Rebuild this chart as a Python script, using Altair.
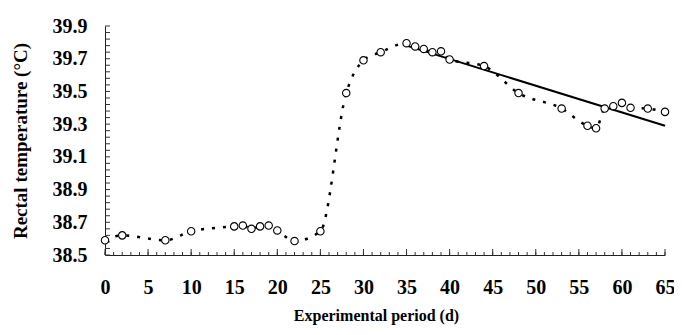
import altair as alt
import pandas as pd

# Observed rectal temperature (dotted curve with open circles)
day = [0, 2, 7, 10, 15, 16, 17, 18, 19, 20, 22, 25, 28, 30, 32, 35, 36, 37, 38, 39,
       40, 44, 48, 53, 56, 57, 58, 59, 60, 61, 63, 65]
temp = [38.59, 38.62, 38.59, 38.645, 38.675, 38.68, 38.66, 38.675, 38.68, 38.65,
        38.585, 38.645, 39.49, 39.69, 39.74, 39.795, 39.775, 39.76, 39.74, 39.745,
        39.695, 39.655, 39.49, 39.395, 39.29, 39.275, 39.395, 39.41, 39.43, 39.40,
        39.395, 39.375]

# Solid trend line
trend_day = [35, 65]
trend_temp = [39.78, 39.29]

# Axis tick / label values
x_labels = [0, 5, 10, 15, 20, 25, 30, 35, 40, 45, 50, 55, 60, 65]
x_minor = list(range(0, 66))
y_labels = [38.5, 38.7, 38.9, 39.1, 39.3, 39.5, 39.7, 39.9]
y_minor = [round(38.5 + 0.04 * k, 2) for k in range(36)]

df = pd.DataFrame({"day": day, "temp": temp})
tr = pd.DataFrame({"day": trend_day, "temp": trend_temp})

FONT = "Liberation Serif"
W, H = 560, 229
TICK = "#333333"

xscale = alt.Scale(domain=[0, 65], nice=False, zero=False)
yscale = alt.Scale(domain=[38.5, 39.9], nice=False, zero=False)

# Inward-pointing axis ticks
xminor_ticks = alt.Chart(pd.DataFrame({"t": x_minor})).mark_rule(
    color=TICK, strokeWidth=1
).encode(
    x=alt.X("t:Q", scale=xscale, axis=None),
    y=alt.value(H), y2=alt.value(H - 3),
)
xmajor_ticks = alt.Chart(pd.DataFrame({"t": x_labels})).mark_rule(
    color=TICK, strokeWidth=1
).encode(
    x=alt.X("t:Q", scale=xscale, axis=None),
    y=alt.value(H), y2=alt.value(H - 6),
)
y_ticks = alt.Chart(pd.DataFrame({"t": y_minor})).mark_rule(
    color=TICK, strokeWidth=1
).encode(
    y=alt.Y("t:Q", scale=yscale, axis=None),
    x=alt.value(0), x2=alt.value(5),
)

# Dotted curve
dotted = alt.Chart(df).mark_line(
    interpolate="monotone", color="black", strokeWidth=2.5, strokeDash=[3, 8]
).encode(
    x=alt.X("day:Q", scale=xscale, axis=None),
    y=alt.Y("temp:Q", scale=yscale, axis=None),
)

# Solid trend
trend = alt.Chart(tr).mark_line(color="black", strokeWidth=2).encode(
    x=alt.X("day:Q", scale=xscale, axis=None),
    y=alt.Y("temp:Q", scale=yscale, axis=None),
)

# Open circles, carrying the labelled axes
points = alt.Chart(df).mark_point(
    shape="circle", size=55, filled=True, fill="white", stroke="black",
    strokeWidth=1.1, opacity=1
).encode(
    x=alt.X("day:Q", scale=xscale, axis=alt.Axis(
        orient="bottom", values=x_labels, format="d", ticks=False, tickSize=0,
        labelPadding=32, labelBaseline="middle", labelFlush=False, labelOverlap=False,
        labelFont=FONT, labelFontSize=20, labelFontWeight="bold", labelColor="black",
        domainColor="#222222", domainWidth=1, grid=False,
        title="Experimental period (d)", titleFont=FONT, titleFontSize=16,
        titleFontWeight="bold", titleColor="black", titleX=271, titleY=60,
        titleAlign="center", titleBaseline="middle")),
    y=alt.Y("temp:Q", scale=yscale, axis=alt.Axis(
        orient="left", values=y_labels, format=".1f", ticks=False, tickSize=0,
        labelPadding=18, labelOverlap=False, labelFont=FONT, labelFontSize=20,
        labelFontWeight="bold", labelColor="black",
        domainColor="#222222", domainWidth=1, grid=False,
        title="Rectal temperature (°C)", titleFont=FONT, titleFontSize=19,
        titleFontWeight="bold", titleColor="black", titleX=-85, titleY=H / 2,
        titleAngle=270, titleAlign="center", titleBaseline="middle")),
)

chart = alt.layer(xminor_ticks, xmajor_ticks, y_ticks, dotted, trend, points).resolve_axis(
    x="independent", y="independent"
).properties(
    width=W, height=H,
    padding={"left": 97, "top": 18, "right": 9, "bottom": 72},
    autosize=alt.AutoSizeParams(type="none"),
    background="white",
).configure_view(stroke=None)

chart.save("out.html", embed_options={"renderer": "svg", "actions": False})
